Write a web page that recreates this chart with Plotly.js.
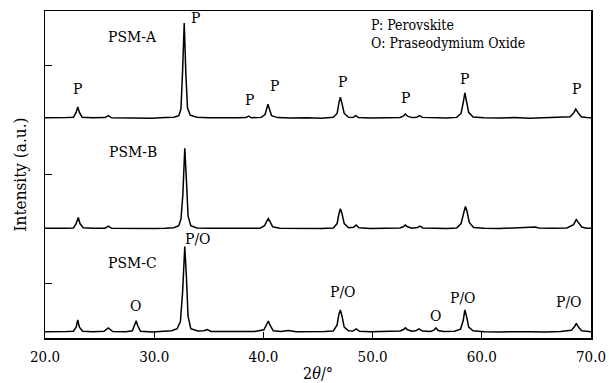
<!DOCTYPE html>
<html>
<head>
<meta charset="utf-8">
<script src="https://cdn.plot.ly/plotly-3.0.1.min.js"></script>
<style>
  html, body { margin: 0; padding: 0; background: #fff; }
  #chart { width: 609px; height: 383px; }
</style>
</head>
<body>
<div id="chart"></div>
<script>
// XRD patterns, 2θ (degrees) vs. stacked intensity (a.u.)
const psmA_x = [20.0, 21.0, 22.0, 22.6, 22.85, 23.0, 23.15, 23.4, 24.3, 25.5, 25.8, 26.1, 27.2, 28.5, 29.8, 31.0, 31.8, 32.25, 32.45, 32.6, 32.75, 32.9, 33.05, 33.3, 33.9, 35.0, 36.3, 37.6, 38.4, 38.65, 38.9, 39.8, 40.15, 40.3, 40.42, 40.55, 40.75, 41.3, 42.5, 44.0, 45.3, 46.4, 46.75, 46.92, 47.05, 47.2, 47.4, 47.8, 48.2, 48.45, 48.7, 49.8, 51.2, 52.5, 52.8, 53.0, 53.2, 53.6, 54.05, 54.3, 54.55, 55.5, 56.8, 57.7, 58.1, 58.3, 58.45, 58.6, 58.8, 59.2, 60.2, 61.6, 63.0, 64.4, 65.8, 67.2, 68.1, 68.45, 68.6, 68.8, 69.1, 69.6, 70.0];
const psmA_y = [2.02, 2.018, 2.022, 2.024, 2.07, 2.12, 2.07, 2.026, 2.02, 2.022, 2.04, 2.02, 2.018, 2.02, 2.017, 2.022, 2.025, 2.04, 2.1, 2.45, 2.89, 2.42, 2.11, 2.045, 2.025, 2.02, 2.018, 2.02, 2.022, 2.035, 2.02, 2.024, 2.05, 2.11, 2.145, 2.1, 2.04, 2.022, 2.018, 2.02, 2.017, 2.025, 2.06, 2.16, 2.21, 2.15, 2.06, 2.025, 2.022, 2.04, 2.022, 2.018, 2.02, 2.024, 2.035, 2.055, 2.035, 2.022, 2.026, 2.04, 2.024, 2.02, 2.018, 2.024, 2.06, 2.16, 2.25, 2.17, 2.07, 2.028, 2.02, 2.018, 2.022, 2.017, 2.02, 2.022, 2.03, 2.07, 2.1, 2.07, 2.03, 2.022, 2.02];

const psmB_x = [20.0, 21.0, 22.0, 22.6, 22.85, 23.05, 23.2, 23.5, 24.4, 25.5, 25.8, 26.1, 27.3, 28.6, 29.9, 31.0, 31.8, 32.25, 32.45, 32.62, 32.72, 32.8, 32.95, 33.1, 33.35, 33.9, 35.0, 36.3, 37.6, 38.6, 39.7, 40.1, 40.3, 40.45, 40.6, 40.85, 41.5, 42.7, 44.0, 45.3, 46.4, 46.75, 46.92, 47.05, 47.2, 47.4, 47.8, 48.25, 48.5, 48.75, 49.8, 51.2, 52.5, 52.8, 53.0, 53.2, 53.6, 54.1, 54.35, 54.6, 55.6, 56.8, 57.7, 58.1, 58.35, 58.5, 58.65, 58.85, 59.25, 60.2, 61.6, 63.0, 64.6, 64.9, 65.2, 66.5, 67.8, 68.4, 68.65, 68.85, 69.15, 69.6, 70.0];
const psmB_y = [1.006, 1.004, 1.008, 1.01, 1.05, 1.106, 1.05, 1.012, 1.006, 1.008, 1.026, 1.006, 1.004, 1.008, 1.005, 1.008, 1.012, 1.03, 1.09, 1.31, 1.6, 1.74, 1.45, 1.12, 1.03, 1.01, 1.006, 1.004, 1.008, 1.006, 1.008, 1.03, 1.07, 1.096, 1.07, 1.02, 1.008, 1.005, 1.008, 1.004, 1.01, 1.05, 1.14, 1.186, 1.14, 1.05, 1.012, 1.015, 1.036, 1.012, 1.004, 1.008, 1.01, 1.02, 1.036, 1.02, 1.008, 1.014, 1.026, 1.01, 1.006, 1.004, 1.01, 1.05, 1.15, 1.206, 1.16, 1.06, 1.014, 1.006, 1.004, 1.008, 1.012, 1.018, 1.01, 1.006, 1.01, 1.04, 1.086, 1.06, 1.018, 1.008, 1.006];

const psmC_x = [20.0, 21.0, 22.0, 22.6, 22.85, 23.0, 23.15, 23.45, 24.4, 25.4, 25.8, 26.2, 27.4, 28.0, 28.2, 28.35, 28.5, 28.75, 29.8, 30.9, 31.6, 32.1, 32.4, 32.6, 32.8, 32.95, 33.1, 33.35, 34.0, 34.55, 34.85, 35.2, 36.4, 37.8, 39.2, 40.05, 40.3, 40.45, 40.6, 40.9, 41.6, 42.3, 43.0, 44.4, 45.6, 46.4, 46.75, 46.92, 47.05, 47.2, 47.4, 47.8, 48.2, 48.5, 48.8, 49.8, 51.2, 52.5, 52.8, 53.0, 53.2, 53.6, 53.95, 54.25, 54.55, 55.3, 55.6, 55.8, 56.0, 56.5, 57.5, 58.05, 58.3, 58.45, 58.6, 58.8, 59.2, 60.2, 61.6, 63.0, 64.4, 65.8, 67.2, 68.2, 68.5, 68.65, 68.85, 69.15, 69.6, 70.0];
const psmC_y = [0.058, 0.056, 0.06, 0.062, 0.1, 0.165, 0.1, 0.062, 0.058, 0.062, 0.093, 0.06, 0.058, 0.066, 0.11, 0.158, 0.11, 0.062, 0.056, 0.06, 0.066, 0.085, 0.15, 0.42, 0.838, 0.56, 0.2, 0.085, 0.065, 0.066, 0.078, 0.06, 0.058, 0.056, 0.06, 0.075, 0.13, 0.156, 0.12, 0.066, 0.06, 0.068, 0.058, 0.056, 0.06, 0.065, 0.12, 0.22, 0.258, 0.2, 0.1, 0.066, 0.064, 0.083, 0.062, 0.058, 0.06, 0.064, 0.075, 0.093, 0.075, 0.062, 0.066, 0.083, 0.064, 0.06, 0.072, 0.093, 0.068, 0.06, 0.062, 0.08, 0.16, 0.258, 0.2, 0.1, 0.066, 0.058, 0.056, 0.06, 0.058, 0.056, 0.06, 0.07, 0.105, 0.135, 0.1, 0.066, 0.06, 0.058];

// Phase markers: [2θ, height, text]
const labelsA = [[23.0, 2.28, "P"], [33.8, 2.94, "P"], [38.75, 2.18, "P"], [41.05, 2.31, "P"], [47.2, 2.35, "P"], [53.0, 2.2, "P"], [58.45, 2.38, "P"], [68.7, 2.28, "P"]];
const labelsC = [[28.3, 0.29, "O"], [34.0, 0.905, "P/O"], [47.25, 0.425, "P/O"], [55.8, 0.2, "O"], [58.25, 0.37, "P/O"], [67.95, 0.33, "P/O"]];
const sampleNames = [["PSM-A", 2.76], ["PSM-B", 1.71], ["PSM-C", 0.69]];
const keyLines = ["P: Perovskite", "O: Praseodymium Oxide"];
const xTicks = [20, 30, 40, 50, 60, 70];

const serif = "DejaVu Serif Condensed, DejaVu Serif";
const lineStyle = {color: "#000", width: 1.5, shape: "linear"};

const traces = [
  {x: psmA_x, y: psmA_y, name: "PSM-A"},
  {x: psmB_x, y: psmB_y, name: "PSM-B"},
  {x: psmC_x, y: psmC_y, name: "PSM-C"}
].map(t => Object.assign(t, {type: "scatter", mode: "lines", line: lineStyle, hoverinfo: "skip"}));

const annotations = [];
const textLabel = (x, y, t, size, anchor) => annotations.push({
  x: x, y: y, xref: "x", yref: "y", text: t, showarrow: false,
  xanchor: anchor || "center", font: {family: serif, size: size, color: "#000"}
});

labelsA.forEach(([x, y, t]) => textLabel(x, y, t, 15.5));
labelsC.forEach(([x, y, t]) => textLabel(x, y, t, 15.5));
sampleNames.forEach(([t, y]) => textLabel(28.05, y, t, 15.5));
keyLines.forEach((t, i) => textLabel(49.7, 2.87 - i * 0.16, t, 14, "left"));

const layout = {
  width: 609, height: 383,
  margin: {l: 45, r: 18, t: 11, b: 45},
  paper_bgcolor: "#fff", plot_bgcolor: "#fff",
  showlegend: false,
  font: {family: serif, color: "#000"},
  xaxis: {
    range: [20, 70], tickvals: xTicks, ticktext: xTicks.map(v => v.toFixed(1)),
    ticks: "inside", ticklen: 6, tickwidth: 1.2, tickcolor: "#000",
    ticklabelstandoff: 4,
    showline: true, linecolor: "#000", linewidth: 1.5, mirror: true,
    showgrid: false, zeroline: false,
    tickfont: {family: serif, size: 15, color: "#000"},
    title: {text: "2<i>θ</i>/°", font: {family: serif, size: 16, color: "#000"}, standoff: 4}
  },
  yaxis: {
    range: [0, 3], tickvals: [0.5, 1.5, 2.5], showticklabels: false,
    ticks: "inside", ticklen: 7, tickwidth: 1.2, tickcolor: "#000",
    showline: true, linecolor: "#000", linewidth: 1.5, mirror: true,
    showgrid: false, zeroline: false,
    title: {text: "Intensity (a.u.)", font: {family: serif, size: 17, color: "#000"}, standoff: 12}
  },
  annotations: annotations
};

Plotly.newPlot("chart", traces, layout, {staticPlot: true, displayModeBar: false});
</script>
</body>
</html>
